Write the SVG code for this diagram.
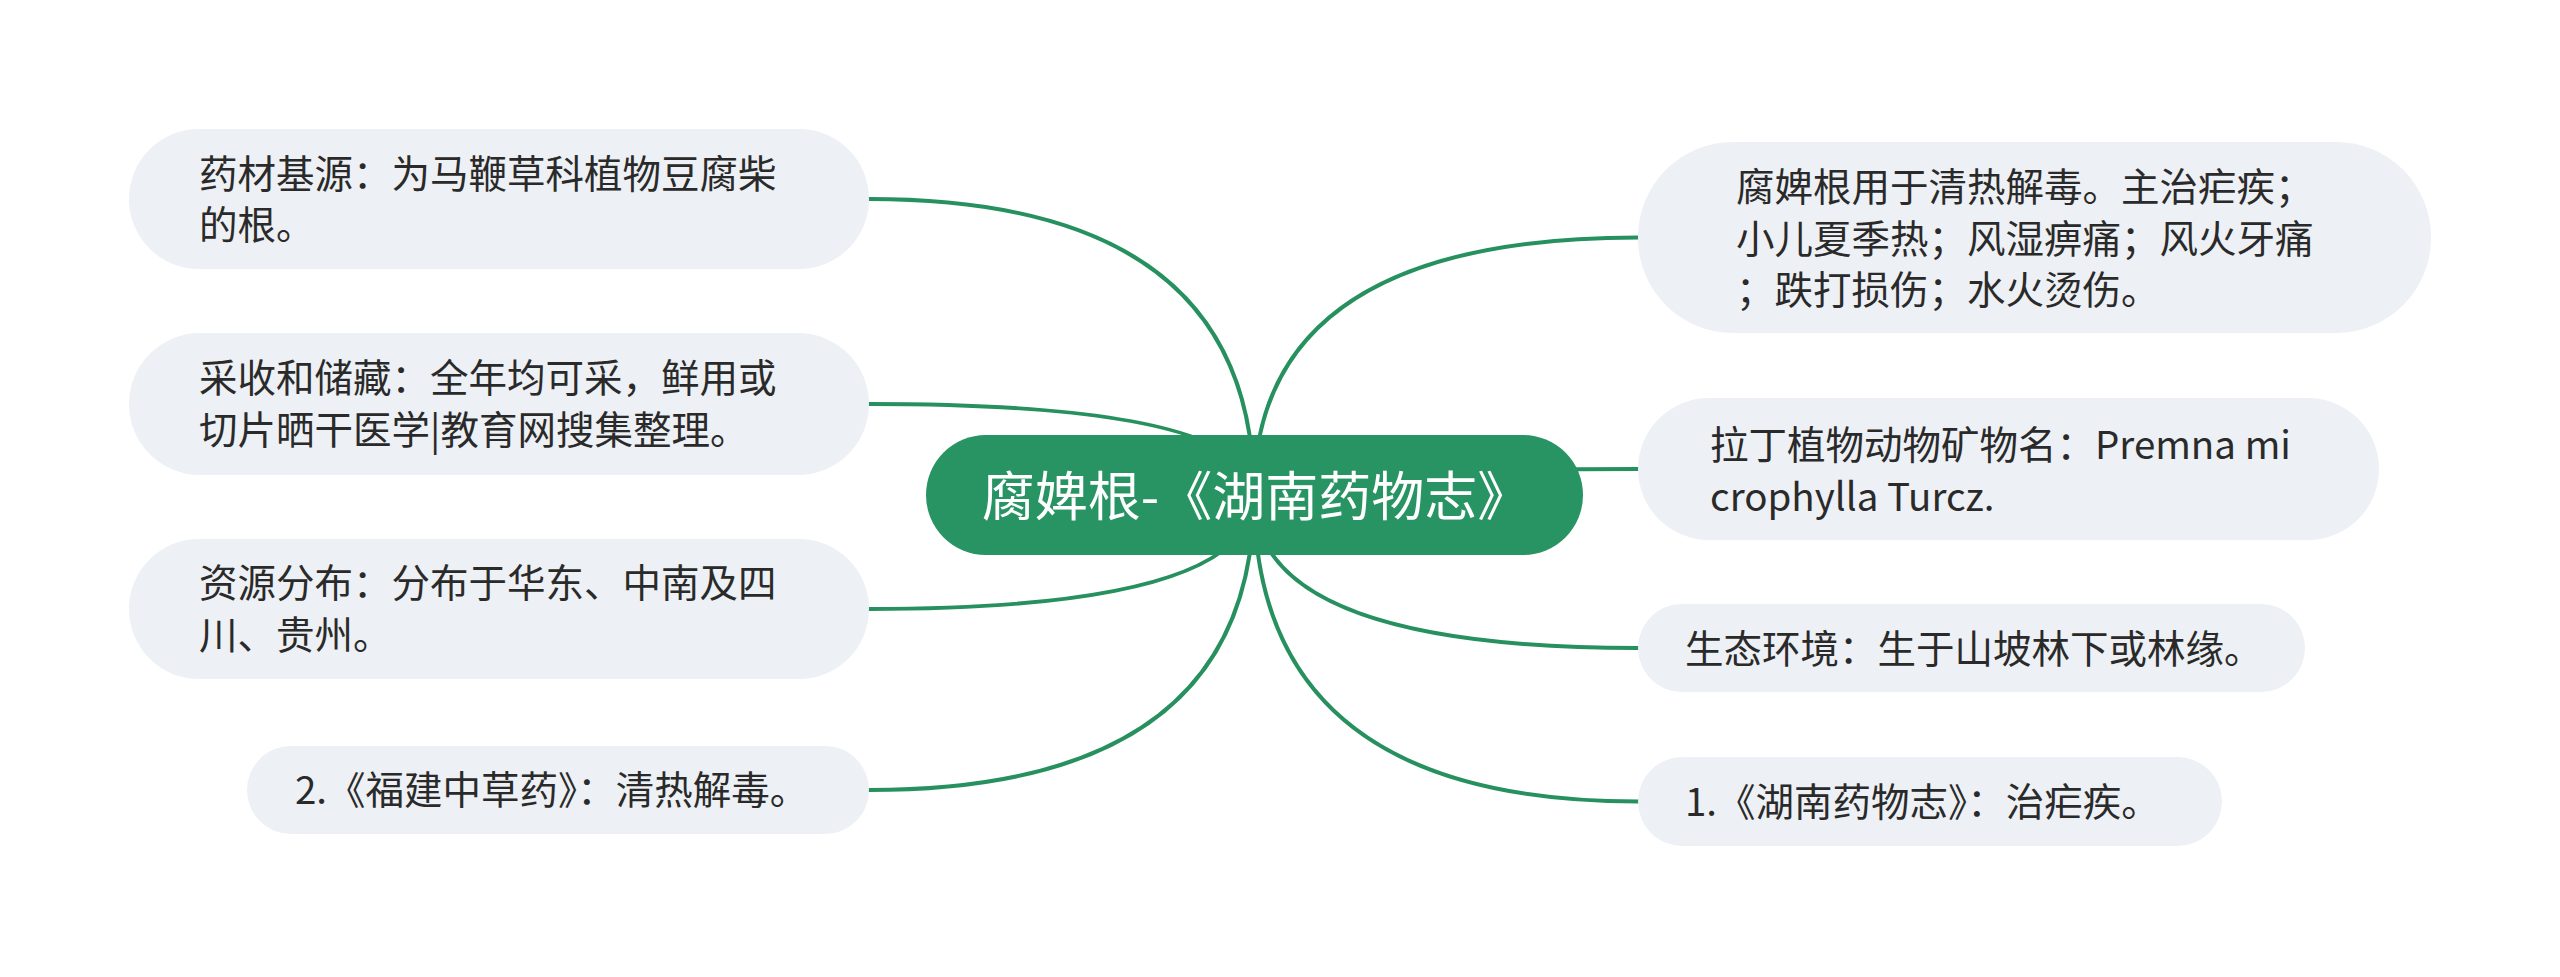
<svg xmlns="http://www.w3.org/2000/svg" width="2560" height="977" viewBox="0 0 2560 977">
<style>
.bg{fill:#ffffff}
.link{fill:none;stroke:#27905f;stroke-width:4;stroke-linecap:round}
.node{fill:#edf0f4}
.root{fill:#289463}
.t{font-family:"Noto Sans CJK SC","Noto Sans",sans-serif;font-size:38.5px;fill:#2a2a2a}
.rt{font-family:"Noto Sans CJK SC","Noto Sans",sans-serif;font-size:53px;fill:#ffffff;text-anchor:middle}
</style>
<rect class="bg" x="0" y="0" width="2560" height="977"/>
<g id="connectors">
<path class="link" d="M1254,495 Q1254,199 869,199"/>
<path class="link" d="M1254,495 Q1254,404 869,404"/>
<path class="link" d="M1254,495 Q1254,609 869,609"/>
<path class="link" d="M1254,495 Q1254,790 869,790"/>
<path class="link" d="M1254,495 Q1254,237.5 1638,237.5"/>
<path class="link" d="M1254,495 Q1254,469 1638,469"/>
<path class="link" d="M1254,495 Q1254,648 1638,648"/>
<path class="link" d="M1254,495 Q1254,801.5 1638,801.5"/>
</g>
<g id="root">
<rect class="root" x="926" y="435" width="657" height="120" rx="60"/>
<text class="rt" x="1256" y="516">腐婢根-《湖南药物志》</text>
</g>
<g id="n1">
<rect class="node" x="129" y="129" width="740" height="140" rx="70"/>
<text class="t"><tspan x="199" y="187.5">药材基源：为马鞭草科植物豆腐柴</tspan><tspan x="199" y="239">的根。</tspan></text>
</g>
<g id="n2">
<rect class="node" x="129" y="333" width="740" height="142" rx="71"/>
<text class="t"><tspan x="199" y="392">采收和储藏：全年均可采，鲜用或</tspan><tspan x="199" y="443.5">切片晒干医学|教育网搜集整理。</tspan></text>
</g>
<g id="n3">
<rect class="node" x="129" y="539" width="740" height="140" rx="70"/>
<text class="t"><tspan x="199" y="597">资源分布：分布于华东、中南及四</tspan><tspan x="199" y="648.5">川、贵州。</tspan></text>
</g>
<g id="n4">
<rect class="node" x="247" y="746" width="622" height="88" rx="44"/>
<text class="t" x="295" y="804">2.《福建中草药》：清热解毒。</text>
</g>
<g id="r1">
<rect class="node" x="1638" y="142" width="793" height="191" rx="95"/>
<text class="t"><tspan x="1736" y="200.5">腐婢根用于清热解毒。主治疟疾；</tspan><tspan x="1736" y="252.5">小儿夏季热；风湿痹痛；风火牙痛</tspan><tspan x="1736" y="304">；跌打损伤；水火烫伤。</tspan></text>
</g>
<g id="r2">
<rect class="node" x="1638" y="398" width="741" height="142" rx="71"/>
<text class="t"><tspan x="1710" y="459">拉丁植物动物矿物名：Premna mi</tspan><tspan x="1710" y="510.5">crophylla Turcz.</tspan></text>
</g>
<g id="r3">
<rect class="node" x="1638" y="604" width="667" height="88" rx="44"/>
<text class="t" x="1685" y="663">生态环境：生于山坡林下或林缘。</text>
</g>
<g id="r4">
<rect class="node" x="1638" y="757" width="584" height="89" rx="44.5"/>
<text class="t" x="1685" y="815.5">1.《湖南药物志》：治疟疾。</text>
</g>
</svg>
